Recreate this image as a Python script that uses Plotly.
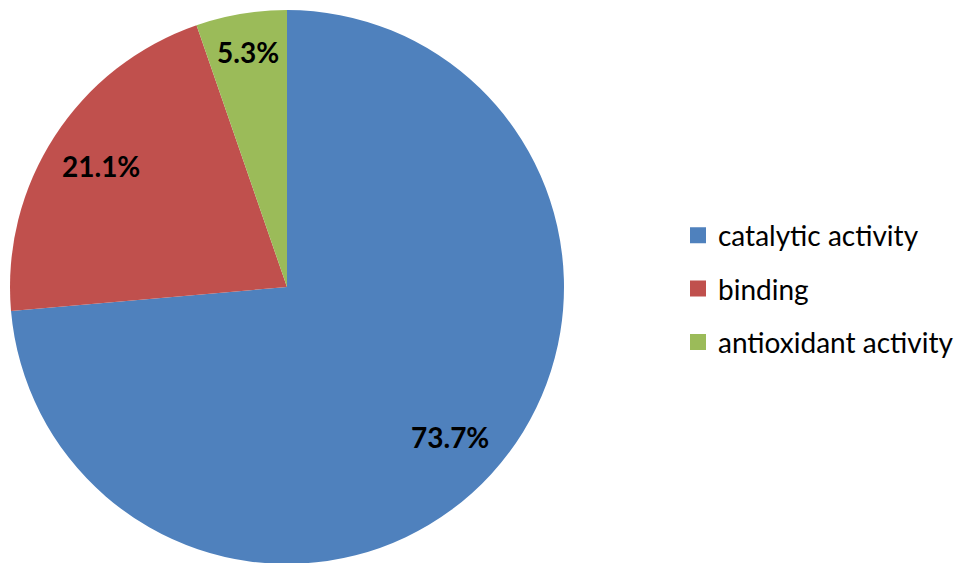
import math
import plotly.graph_objects as go

categories = ["catalytic activity", "binding", "antioxidant activity"]
values = [73.7, 21.1, 5.3]
label_texts = ["73.7%", "21.1%", "5.3%"]
colors = ["#4F81BD", "#C0504D", "#9BBB59"]
label_radius = [0.8, 0.8, 0.86]  # label distance as a fraction of the radius

W, H = 964, 563
OFF = 8  # page body margin
cx, cy, R = 287 - OFF, 287 - OFF, 277  # pie centre / radius in figure pixels

fig = go.Figure()
fig.add_trace(go.Pie(
    labels=categories,
    values=values,
    textinfo="none",
    sort=False,
    direction="clockwise",
    rotation=0,
    marker=dict(colors=colors, line=dict(width=0)),
    domain=dict(x=[(cx - R) / W, (cx + R) / W], y=[1 - (cy + R) / H, 1 - (cy - R) / H]),
    hoverinfo="label+percent",
    showlegend=False,
))

# data labels placed at the middle angle of each slice
total = sum(values)
cum = 0.0
for v, t, rf in zip(values, label_texts, label_radius):
    mid = (cum + v / 2) / total * 2 * math.pi
    cum += v
    px = cx + rf * R * math.sin(mid)
    py = cy - rf * R * math.cos(mid)
    fig.add_annotation(
        x=px / W, y=1 - py / H, xref="paper", yref="paper",
        text=t, showarrow=False, xanchor="center", yanchor="middle",
        font=dict(family="Lato", size=28, color="black", weight="bold"),
    )

# legend entries
for name, c in zip(categories, colors):
    fig.add_trace(go.Scatter(
        x=[None], y=[None], mode="markers", name=name, legendgroup=name,
        marker=dict(symbol="square", size=16, color=c),
        hoverinfo="skip",
    ))

fig.update_layout(
    width=W, height=H,
    margin=dict(l=0, r=0, t=0, b=0),
    paper_bgcolor="white",
    plot_bgcolor="white",
    xaxis=dict(visible=False),
    yaxis=dict(visible=False),
    showlegend=True,
    legend=dict(
        x=(678 - OFF) / W, y=1 - (289 - OFF) / H, xanchor="left", yanchor="middle",
        font=dict(family="Lato", size=28, color="black"),
        bgcolor="rgba(0,0,0,0)",
        tracegroupgap=14,
    ),
)

fig.write_html("out.html")
